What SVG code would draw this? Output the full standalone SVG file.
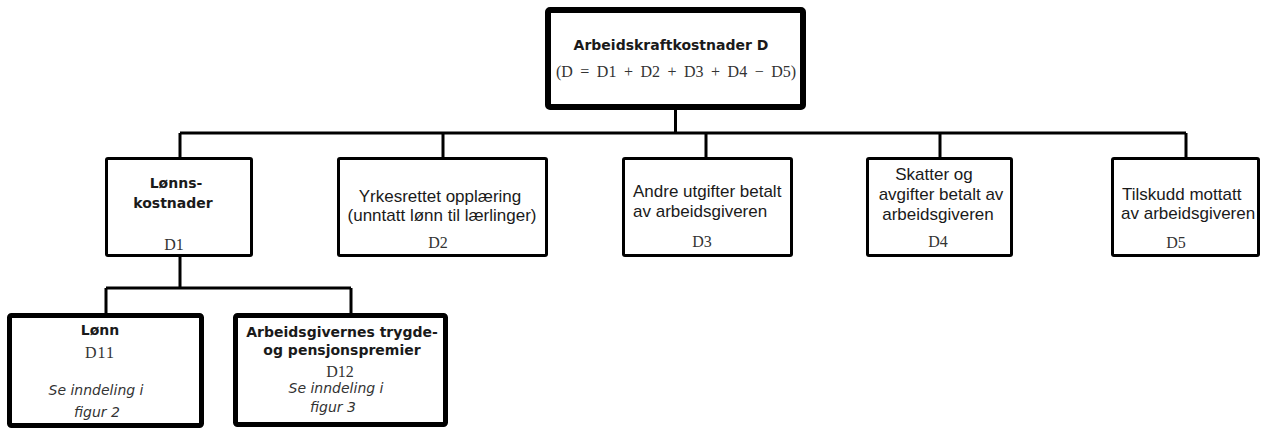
<svg xmlns="http://www.w3.org/2000/svg" width="1263" height="428" viewBox="0 0 1263 428">
<style>
.box{fill:#fff;stroke:#000;stroke-width:3}
.thick{stroke-width:5}
.top{stroke-width:6}
.con{fill:none;stroke:#000;stroke-width:3}
.b{font-family:"DejaVu Sans",Verdana,sans-serif;font-weight:bold;font-size:14px;fill:#1a1a1a;text-anchor:middle}
.r{font-family:"Liberation Sans",Arial,sans-serif;font-size:17px;fill:#1a1a1a}
.s{font-family:"Liberation Serif","Times New Roman",serif;font-size:16px;fill:#333;text-anchor:middle}
.i{font-family:"DejaVu Sans",Verdana,sans-serif;font-style:italic;font-size:14px;fill:#333;text-anchor:middle}
.m{text-anchor:middle}
</style>
<rect width="1263" height="428" fill="#fff"/>
<g id="connectors">
<path class="con" d="M675.5 108V133M180 133H1186M180 133V158M443 133V158M706 133V158M940 133V158M1186 133V158"/>
<path class="con" d="M180 256V288M106 288H351M106 288V315M351 288V315"/>
</g>
<g id="node-D">
<rect class="box top" x="548" y="10" width="255" height="97" rx="2"/>
<text class="b" x="671" y="50">Arbeidskraftkostnader D</text>
<text class="s" x="676" y="77" style="word-spacing:3.5px">(D = D1 + D2 + D3 + D4 − D5)</text>
</g>
<g id="node-D1">
<rect class="box" x="106.5" y="158.5" width="145" height="97" rx="1.5"/>
<text class="b" x="176" y="188">Lønns-</text>
<text class="b" x="173" y="208">kostnader</text>
<text class="s" x="174" y="250">D1</text>
</g>
<g id="node-D2">
<rect class="box" x="338.5" y="158.5" width="208" height="97" rx="1.5"/>
<text class="r m" x="440" y="202">Yrkesrettet opplæring</text>
<text class="r m" x="442" y="221">(unntatt lønn til lærlinger)</text>
<text class="s" x="438" y="248">D2</text>
</g>
<g id="node-D3">
<rect class="box" x="623.5" y="158.5" width="168" height="97" rx="1.5"/>
<text class="r" x="633" y="197">Andre utgifter betalt</text>
<text class="r" x="633" y="217">av arbeidsgiveren</text>
<text class="s" x="702" y="247">D3</text>
</g>
<g id="node-D4">
<rect class="box" x="867.5" y="158.5" width="144" height="97" rx="1.5"/>
<text class="r m" x="934" y="180">Skatter og</text>
<text class="r m" x="941" y="200">avgifter betalt av</text>
<text class="r m" x="938" y="220">arbeidsgiveren</text>
<text class="s" x="938" y="247">D4</text>
</g>
<g id="node-D5">
<rect class="box" x="1112.5" y="158.5" width="146" height="97" rx="1.5"/>
<text class="r" x="1122" y="200">Tilskudd mottatt</text>
<text class="r" x="1121" y="219">av arbeidsgiveren</text>
<text class="s" x="1176" y="248">D5</text>
</g>
<g id="node-D11">
<rect class="box thick" x="9.5" y="315.5" width="192" height="110" rx="2"/>
<text class="b" x="100" y="335">Lønn</text>
<text class="s" x="100" y="358" style="letter-spacing:1px">D11</text>
<text class="i" x="96" y="395">Se inndeling i</text>
<text class="i" x="97" y="417">figur 2</text>
</g>
<g id="node-D12">
<rect class="box thick" x="235.5" y="315.5" width="210" height="109" rx="2"/>
<text class="b" x="342" y="337">Arbeidsgivernes trygde-</text>
<text class="b" x="342" y="355">og pensjonspremier</text>
<text class="s" x="340" y="377">D12</text>
<text class="i" x="336" y="393">Se inndeling i</text>
<text class="i" x="333" y="412">figur 3</text>
</g>
</svg>
